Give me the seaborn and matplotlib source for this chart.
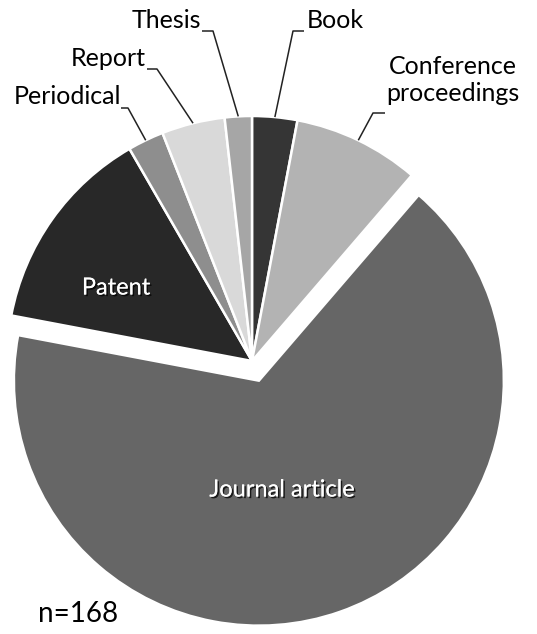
import matplotlib
matplotlib.use("Agg")
import matplotlib.pyplot as plt
import matplotlib.patheffects as pe
import numpy as np
import seaborn as sns

# Publication types (n = 168)
categories = ["Book", "Conference\nproceedings", "Journal article", "Patent",
              "Periodical", "Report", "Thesis"]
counts = [5, 14, 112, 23, 4, 7, 3]
shades = ["#353535", "#b3b3b3", "#666666", "#282828", "#8e8e8e", "#d9d9d9", "#a6a6a6"]
explode = [0, 0, 0.085, 0, 0, 0, 0]
total_label = "n=168"

sns.set_theme(style="white")
plt.rcParams["font.family"] = ["Lato", "DejaVu Sans"]

W, H = 537, 634
fig = plt.figure(figsize=(W / 100, H / 100), dpi=100)
ax = fig.add_axes([0, 0, 1, 1])

# pie centre and radius in pixels; helper converts pixel layout to data units
CX, CY, R = 252, 361, 245


def px(x, y):
    return ((x - CX) / R, (CY - y) / R)


wedges, _ = ax.pie(counts, colors=shades, startangle=90, counterclock=False,
                   explode=explode, radius=1,
                   wedgeprops=dict(edgecolor="white", linewidth=1.8))
ax.set_xlim(-CX / R, (W - CX) / R)
ax.set_ylim(-(H - CY) / R, CY / R)
ax.set_aspect("equal")
ax.axis("off")

# outer labels: text anchor, alignment, knee and tail of leader line (pixels)
outer = {
    "Book": dict(pos=(307, 21), ha="left", knee=(293, 31), tail=(304, 31)),
    "Conference\nproceedings": dict(pos=(386, 80), ha="left", knee=(373, 113), tail=(385, 113)),
    "Periodical": dict(pos=(121, 97), ha="right", knee=(128, 108), tail=(121, 108)),
    "Report": dict(pos=(146, 59), ha="right", knee=(157, 69), tail=(147, 69)),
    "Thesis": dict(pos=(201, 21), ha="right", knee=(213, 31), tail=(202, 31)),
}

for w, name in zip(wedges, categories):
    if name not in outer:
        continue
    cfg = outer[name]
    mid = np.deg2rad((w.theta1 + w.theta2) / 2)
    ax0 = w.center[0] + w.r * np.cos(mid)
    ay0 = w.center[1] + w.r * np.sin(mid)
    kx, ky = px(*cfg["knee"])
    tx, ty = px(*cfg["tail"])
    ax.plot([ax0, kx, tx], [ay0, ky, ty], color="#222222", lw=1.1,
            solid_capstyle="butt", zorder=3)
    x, y = px(*cfg["pos"])
    ax.text(x, y, name, ha=cfg["ha"], va="center", fontsize=18,
            color="black", multialignment="center", linespacing=1.25)

# labels drawn inside their slices
shadow = [pe.withSimplePatchShadow(offset=(1.2, -1.2), shadow_rgbFace="black", alpha=0.75),
          pe.Normal()]
inner = {"Patent": (116, 288), "Journal article": (282, 490)}
for name, (x, y) in inner.items():
    dx, dy = px(x, y)
    ax.text(dx, dy, name, ha="center", va="center", fontsize=17,
            color="white", path_effects=shadow)

nx, ny = px(38, 614)
ax.text(nx, ny, total_label, ha="left", va="center", fontsize=20, color="black")

fig.savefig("out.png", dpi=100)
